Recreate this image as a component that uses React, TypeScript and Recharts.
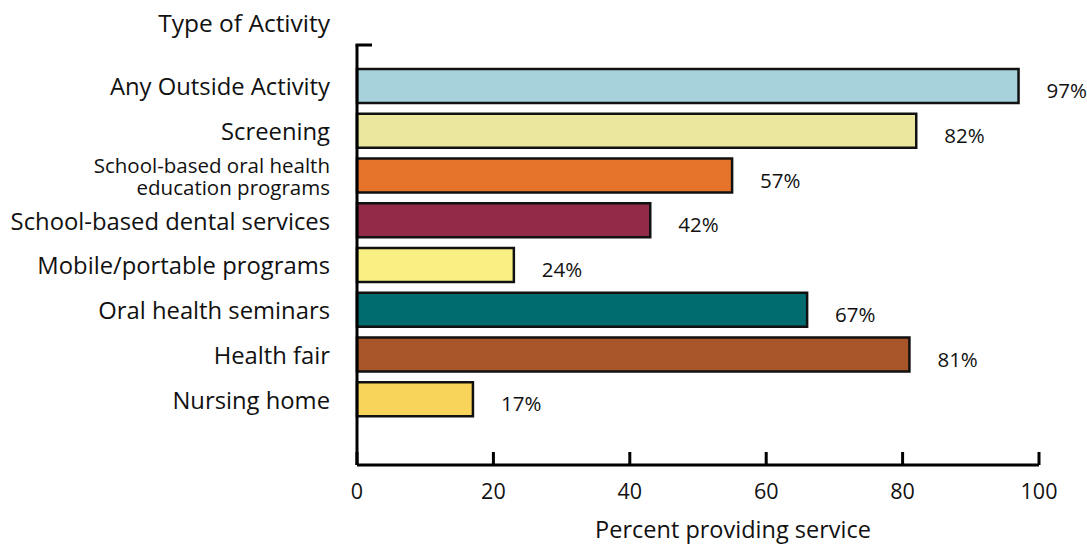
import React from 'react';
import { BarChart, Bar, XAxis, YAxis, Cell, LabelList } from 'recharts';

const categories = [
  'Any Outside Activity',
  'Screening',
  'School-based oral health\neducation programs',
  'School-based dental services',
  'Mobile/portable programs',
  'Oral health seminars',
  'Health fair',
  'Nursing home',
];
const values = [97, 82, 55, 43, 23, 66, 81, 17];
const valueLabels = ['97%', '82%', '57%', '42%', '24%', '67%', '81%', '17%'];
const colors = ['#A7D2DC', '#EBE79F', '#E5732A', '#912B48', '#F9F083', '#006C6F', '#A9552A', '#F9D45A'];
const xTicks = [0, 20, 40, 60, 80, 100];
const yHeader = 'Type of Activity';
const xTitle = 'Percent providing service';

const data = categories.map((c, i) => ({ name: c, value: values[i], label: valueLabels[i], color: colors[i] }));

const FONT = '"Open Sans", "Noto Sans", sans-serif';

const YTick = (props: any) => {
  const { x, y, payload } = props;
  const lines = String(payload.value).split('\n');
  if (lines.length === 1) {
    return (
      <text x={x} y={y} textAnchor="end" dominantBaseline="central" fontSize={23.8} fontFamily={FONT} fill="#111">
        {lines[0]}
      </text>
    );
  }
  return (
    <g>
      {lines.map((l, i) => (
        <text
          key={i}
          x={x}
          y={y + (i - (lines.length - 1) / 2) * 22.5}
          textAnchor="end"
          dominantBaseline="central"
          fontSize={20.5}
          fontFamily={FONT}
          fill="#111"
        >
          {l}
        </text>
      ))}
    </g>
  );
};

const XTick = (props: any) => {
  const { x, y, payload } = props;
  return (
    <g>
      <line x1={x} x2={x} y1={y - 13} y2={y} stroke="#000" strokeWidth={3} />
      <text x={x} y={y + 25} textAnchor="middle" dominantBaseline="central" fontSize={21.5} fontFamily={FONT} fill="#111">
        {payload.value}
      </text>
    </g>
  );
};

const YHeaderLabel = (props: any) => {
  const { viewBox } = props;
  const { x, y, width } = viewBox;
  return (
    <g>
      <text x={x + width - 27} y={y - 23} textAnchor="end" dominantBaseline="central" fontSize={24.5} fontFamily={FONT} fill="#111">
        {yHeader}
      </text>
      <line x1={x + width - 1.5} x2={x + width + 15} y1={y} y2={y} stroke="#000" strokeWidth={3} />
    </g>
  );
};

const XTitleLabel = (props: any) => {
  const { viewBox } = props;
  const { x, y, width } = viewBox;
  return (
    <text x={x + width / 2 + 35} y={y + 64} textAnchor="middle" dominantBaseline="central" fontSize={23.5} fontFamily={FONT} fill="#111">
      {xTitle}
    </text>
  );
};

const ValueLabel = (props: any) => {
  const { x, y, width, height, value } = props;
  return (
    <text x={x + width + 28} y={y + height / 2 + 4} textAnchor="start" dominantBaseline="central" fontSize={20.5} fontFamily={FONT} fill="#111">
      {value}
    </text>
  );
};

export default function App() {
  return (
    <div style={{ position: 'absolute', left: 0, top: 0, background: '#fff' }}>
      <BarChart
        width={1087}
        height={546}
        data={data}
        layout="vertical"
        margin={{ top: 45, right: 48, bottom: 0, left: 0 }}
      >
        <XAxis
          type="number"
          domain={[0, 100]}
          ticks={xTicks}
          tickSize={0}
          tickMargin={0}
          tick={<XTick />}
          axisLine={{ stroke: '#000', strokeWidth: 3 }}
          tickLine={false}
          height={81}
          label={<XTitleLabel />}
        />
        <YAxis
          type="category"
          dataKey="name"
          width={357}
          tickSize={0}
          tickMargin={0}
          tick={(p: any) => <YTick {...p} x={330} />}
          axisLine={{ stroke: '#000', strokeWidth: 3 }}
          tickLine={false}
          padding={{ top: 19, bottom: 43 }}
          interval={0}
          label={<YHeaderLabel />}
        />
        <Bar dataKey="value" barSize={34} stroke="#111" strokeWidth={2.5} isAnimationActive={false}>
          {data.map((d, i) => (
            <Cell key={i} fill={d.color} />
          ))}
          <LabelList dataKey="label" content={<ValueLabel />} />
        </Bar>
      </BarChart>
    </div>
  );
}
